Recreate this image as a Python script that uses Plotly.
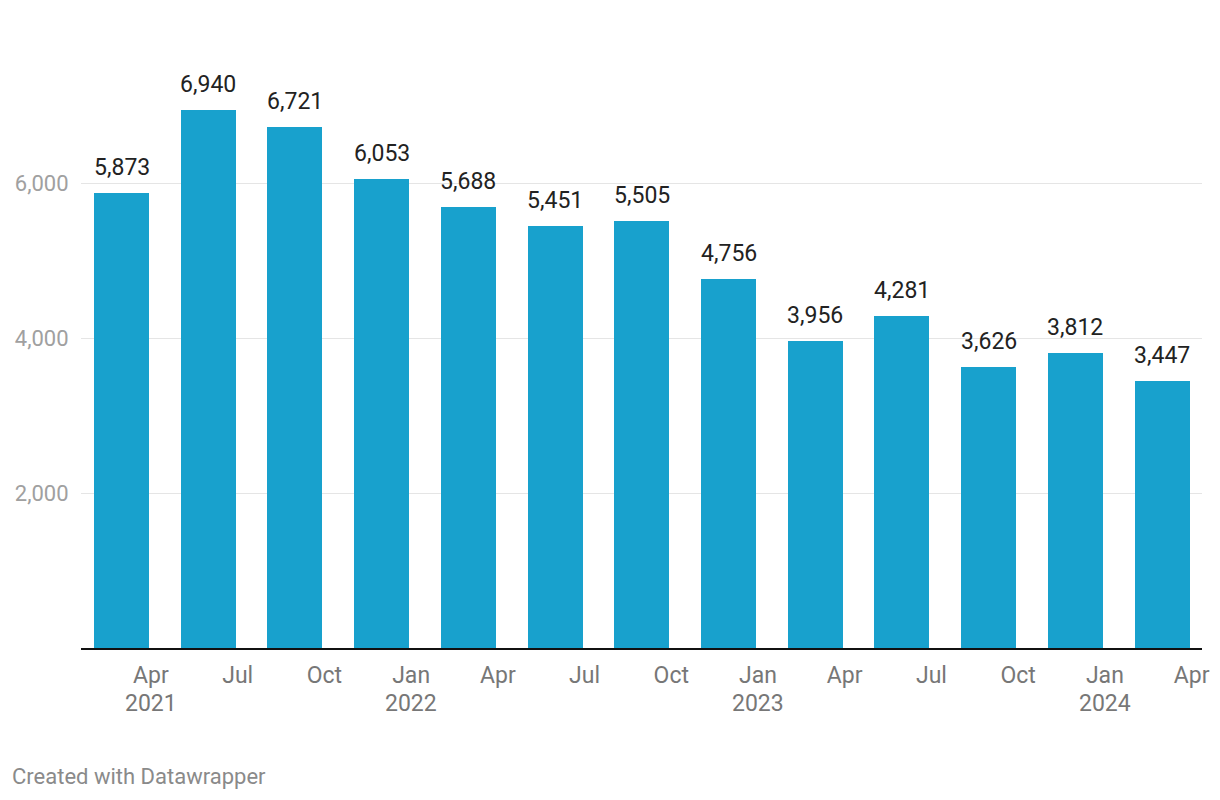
import plotly.graph_objects as go

quarters = ["Apr 2021", "Jul 2021", "Oct 2021", "Jan 2022", "Apr 2022", "Jul 2022", "Oct 2022",
            "Jan 2023", "Apr 2023", "Jul 2023", "Oct 2023", "Jan 2024", "Apr 2024"]
values = [5873, 6940, 6721, 6053, 5688, 5451, 5505, 4756, 3956, 4281, 3626, 3812, 3447]
month_labels = ["Apr", "Jul", "Oct", "Jan", "Apr", "Jul", "Oct", "Jan", "Apr", "Jul", "Oct", "Jan", "Apr"]
year_labels = {0: "2021", 3: "2022", 7: "2023", 11: "2024"}
y_ticks = [2000, 4000, 6000]

xs = list(range(len(values)))
tick_offset = 0.34

ML, MR, MT, MB = 73, 26, 20, 160
W, H = 1220, 800
plot_w = W - ML - MR
plot_h = H - MT - MB

fig = go.Figure()
fig.add_trace(go.Bar(
    x=xs, y=values, width=0.634, marker=dict(color="#18a1cd", line=dict(width=0)),
    hoverinfo="skip",
))

annotations = []
for x, v in zip(xs, values):
    annotations.append(dict(x=x, y=v, text=f"{v:,}", showarrow=False, yanchor="bottom",
                            yshift=10, font=dict(family="Roboto", size=23, color="#222222")))
for i, yr in year_labels.items():
    annotations.append(dict(x=i + tick_offset, y=-55 / plot_h, xref="x", yref="paper", text=yr,
                            showarrow=False, yanchor="middle",
                            font=dict(family="Roboto", size=23, color="#777777")))
annotations.append(dict(x=(2 - ML) / plot_w, y=-128 / plot_h, xref="paper", yref="paper",
                        text="Created with Datawrapper",
                        showarrow=False, xanchor="left", yanchor="middle",
                        font=dict(family="Roboto", size=22, color="#8a8a8a")))

fig.update_layout(
    width=W, height=H,
    margin=dict(l=ML, r=MR, t=MT, b=MB, autoexpand=False),
    plot_bgcolor="white", paper_bgcolor="white",
    showlegend=False, bargap=0,
    annotations=annotations,
    font=dict(family="Roboto"),
)
fig.update_xaxes(
    range=[-0.467, 12.46], automargin=False,
    tickvals=[x + tick_offset for x in xs], ticktext=month_labels,
    tickfont=dict(family="Roboto", size=23, color="#777777"),
    showgrid=False, zeroline=False,
    showline=True, linecolor="#111111", linewidth=2,
    ticks="outside", ticklen=5, tickcolor="rgba(0,0,0,0)",
)
fig.update_yaxes(
    range=[0, 8000], automargin=False,
    tickvals=y_ticks, ticktext=[f"{t:,}" for t in y_ticks],
    tickfont=dict(family="Roboto", size=22, color="#a0a0a0"),
    showgrid=True, gridcolor="#e5e5e5", gridwidth=1,
    zeroline=False, showline=False,
    ticks="outside", ticklen=7, tickcolor="rgba(0,0,0,0)",
)
fig.write_html("out.html")
